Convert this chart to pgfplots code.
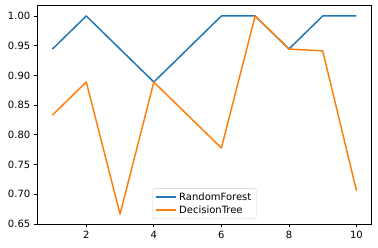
\documentclass[border=0pt]{standalone}
\usepackage{pgfplots}
\pgfplotsset{compat=1.18}
\usepackage{fontspec}
\setmainfont{DejaVu Sans}
\definecolor{cA}{HTML}{1F77B4}
\definecolor{cB}{HTML}{FF7F0E}
\definecolor{tk}{HTML}{262626}
\begin{document}
\begin{tikzpicture}
\begin{axis}[
  at={(0,0)}, anchor=south west,
  scale only axis, width=334.4pt, height=218.3pt,
  xmin=0.55, xmax=10.45, ymin=0.65, ymax=1.0173,
  xtick={2,4,6,8,10},
  ytick={0.65,0.70,0.75,0.80,0.85,0.90,0.95,1.00},
  yticklabel style={/pgf/number format/.cd, fixed, fixed zerofill, precision=2},
  /pgf/number format/assume math mode=true,
  tick label style={font=\fontsize{10}{12}\selectfont, text=black},
  tick align=outside, major tick length=3.5pt,
  every tick/.style={black, line width=0.8pt},
  xtick pos=bottom, ytick pos=left,
  axis line style={black, line width=0.8pt},
  legend style={at={(0.5,0.023)}, anchor=south, draw=black!20, rounded corners=2pt,
    fill=white, fill opacity=0.8, text opacity=1, font=\fontsize{10}{12}\selectfont,
    inner xsep=3pt, inner ysep=2pt, row sep=0pt},
  legend cell align=left,
  legend image code/.code={\draw[#1] (0pt,0pt) -- (20pt,0pt);},
]
\addplot[cA, line width=1.5pt, line join=round] coordinates {
(1,0.9444) (2,1.0) (3,0.9444) (4,0.8889) (5,0.9444) (6,1.0) (7,1.0) (8,0.9444) (9,1.0) (10,1.0)};
\addlegendentry{RandomForest}
\addplot[cB, line width=1.5pt, line join=round] coordinates {
(1,0.8333) (2,0.8889) (3,0.6667) (4,0.8889) (5,0.8333) (6,0.7778) (7,1.0) (8,0.9444) (9,0.9412) (10,0.7059)};
\addlegendentry{DecisionTree}
\end{axis}
\path[use as bounding box] (-37.3pt,-24pt) rectangle (340.7pt,224pt);
\end{tikzpicture}
\end{document}
